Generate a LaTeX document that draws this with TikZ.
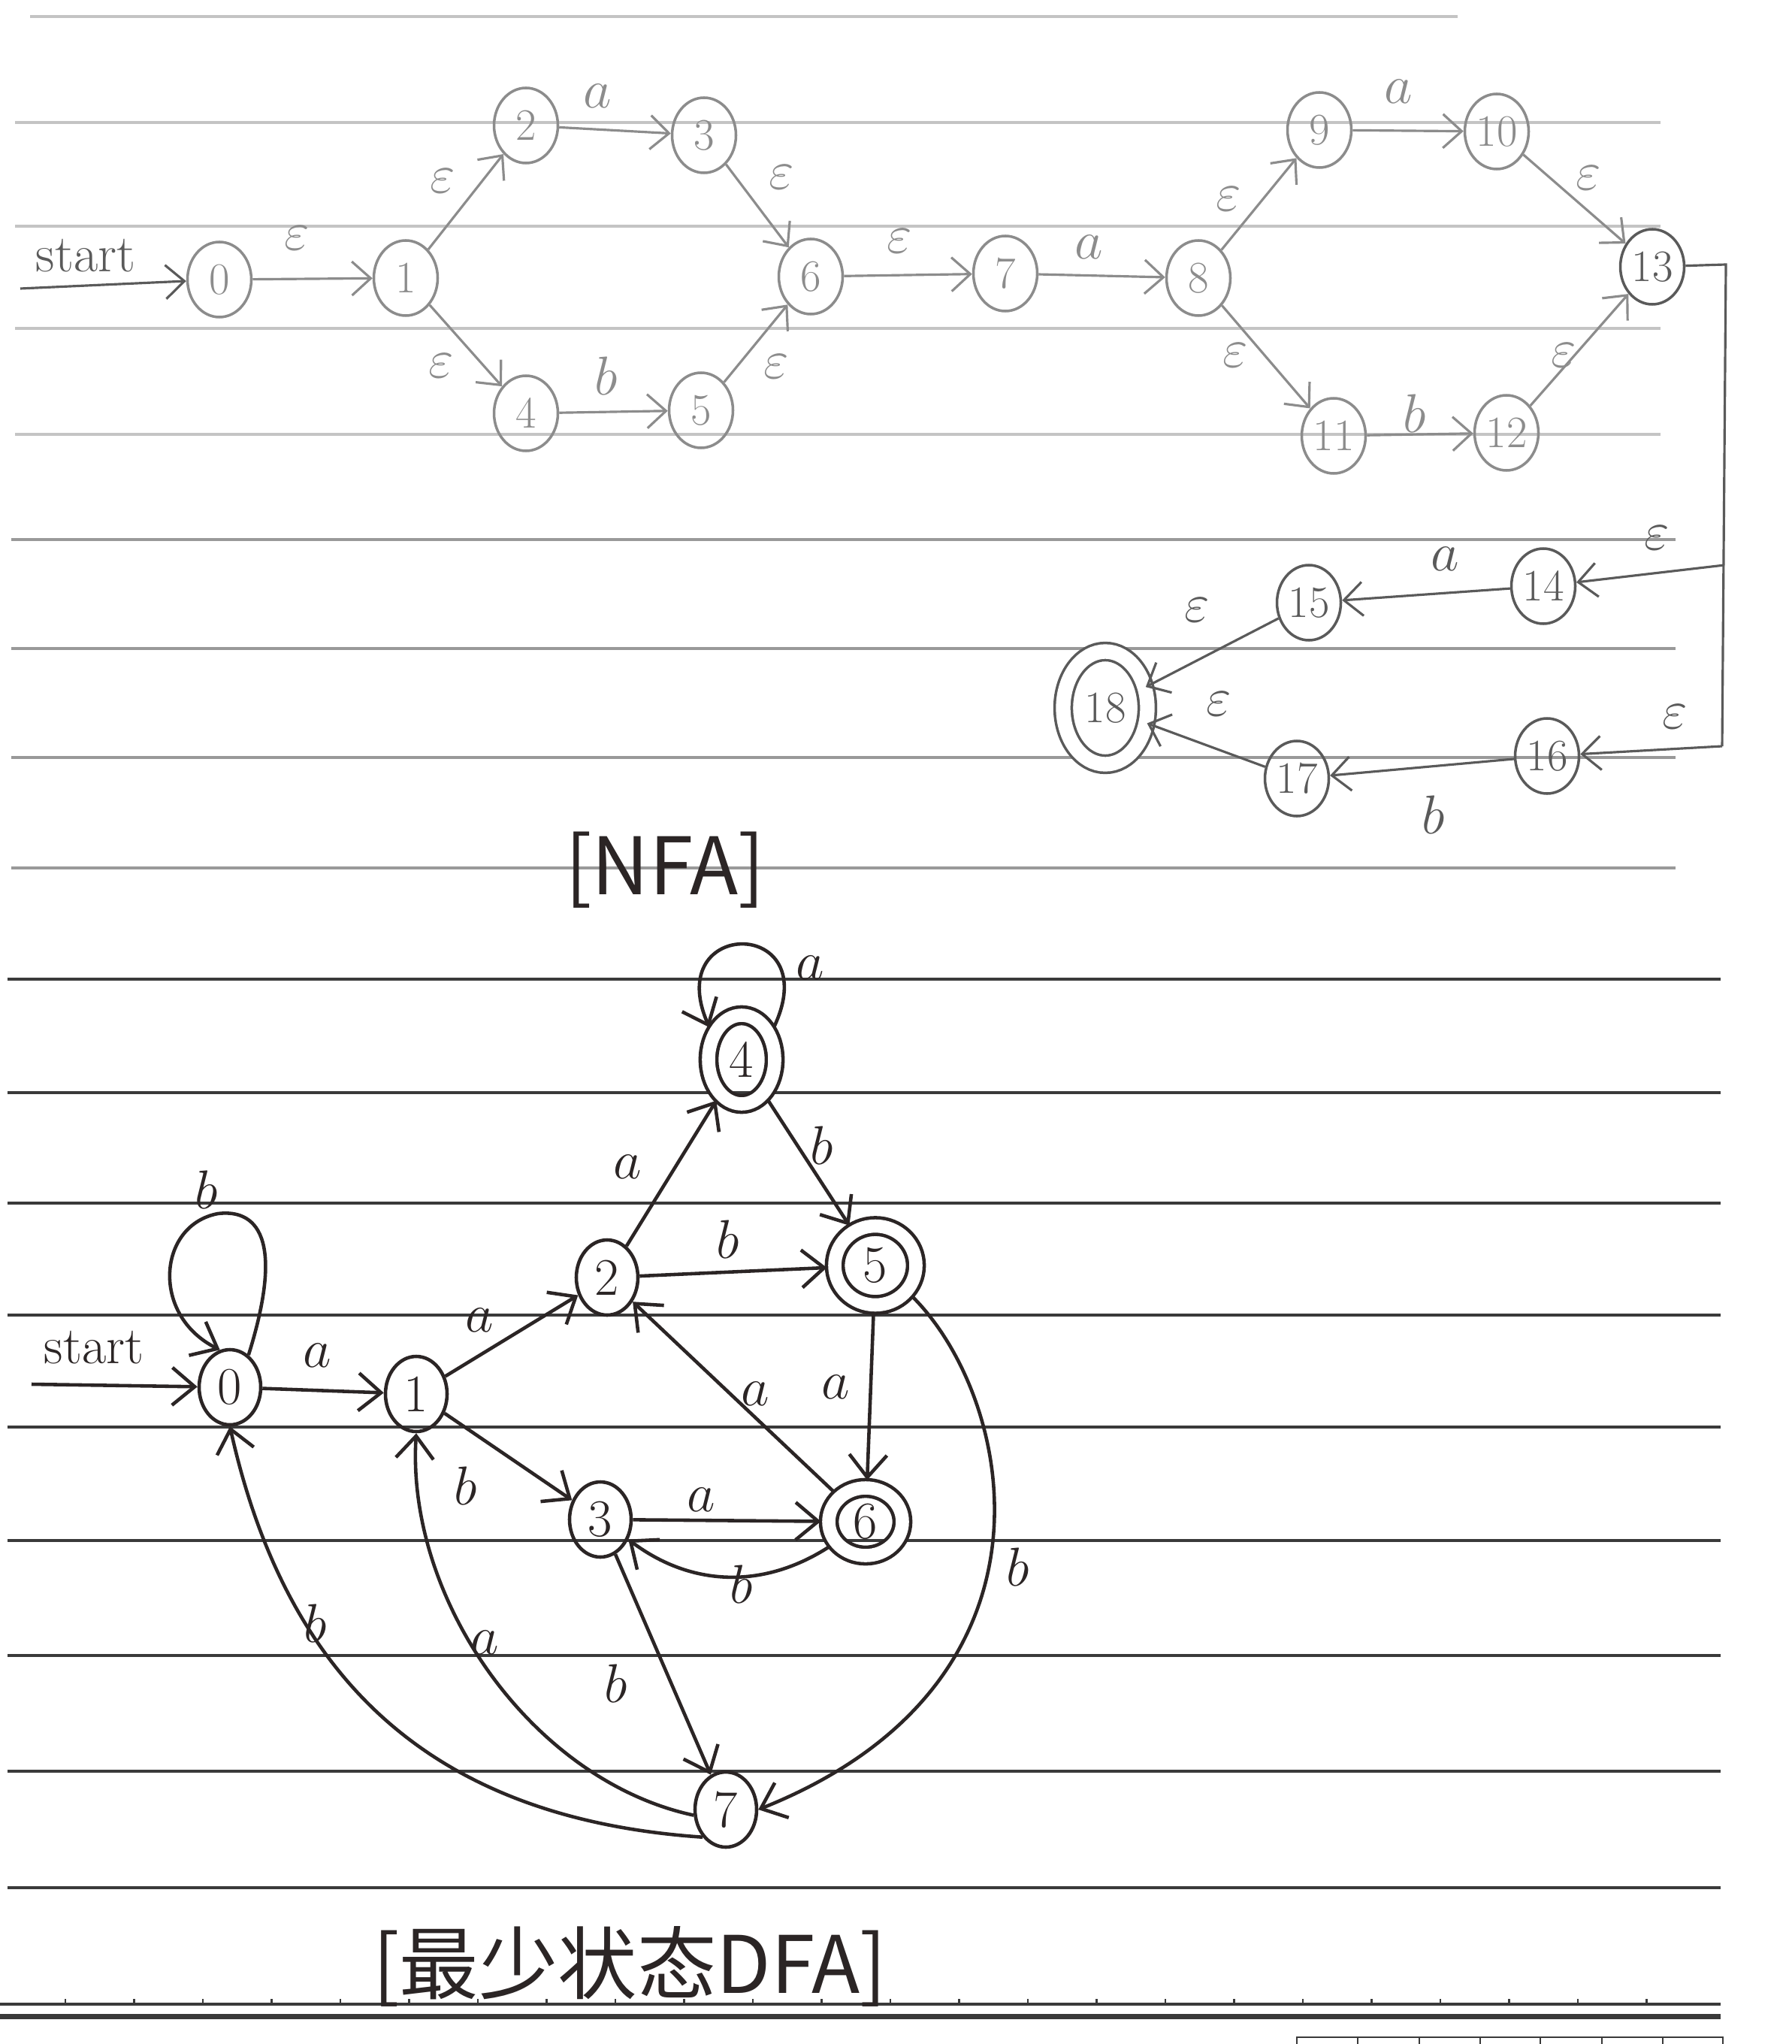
\documentclass[tikz,border=0pt]{standalone}
\usepackage{fontspec}
\newfontfamily\cjk{Noto Sans CJK SC}
\usepackage{tikz}
\usetikzlibrary{positioning, arrows.meta, shapes.geometric}
\definecolor{pencilGray}{HTML}{8C8C8C}
\definecolor{pencilDark}{HTML}{5A5A5A}
\definecolor{inkDark}{HTML}{2B2525}
\definecolor{ruleLight}{HTML}{C4C4C4}
\definecolor{ruleMid}{HTML}{999999}
\definecolor{ruleDark}{HTML}{3A3A3A}

\begin{document}
\begin{tikzpicture}[
  rule/.style={draw=#1, line width=0.9pt},
  nstate/.style={
    ellipse, draw=#1, line width=1pt,
    minimum width=0.85cm, minimum height=1.0cm, inner sep=0pt,
    font=\fontsize{17}{20}\selectfont, text=#1
  },
  nstate/.default=pencilGray,
  nacc/.style={
    nstate=pencilDark, double, double distance=5.5pt,
    minimum width=1.12cm, minimum height=1.5cm
  },
  dstate/.style={
    ellipse, draw=inkDark, line width=1.3pt,
    minimum width=0.82cm, minimum height=1.0cm, inner sep=0pt,
    font=\fontsize{20}{24}\selectfont, text=inkDark
  },
  dacc/.style={dstate, double, double distance=5pt, outer sep=3pt},
  nedge/.style={draw=#1, line width=0.9pt, -{Straight Barb[length=2.5mm,width=4.5mm]}},
  nedge/.default=pencilGray,
  dedge/.style={draw=inkDark, line width=1.3pt, -{Straight Barb[length=3mm,width=5mm]}},
  lbl/.style={font=\fontsize{22}{26}\selectfont, text=#1, inner sep=1pt},
  lbl/.default=inkDark,
  starttxt/.style={font=\fontsize{20}{24}\selectfont, text=#1, inner sep=1pt},
  title/.style={font=\cjk\fontsize{30}{34}\selectfont, text=inkDark, inner sep=1pt}
]
\useasboundingbox (0,0) rectangle (23.84,-27.20);

% === PAPER ===
\fill[white] (0,0) rectangle (23.84,-27.20);
\draw[rule=ruleLight] (0.40,-0.22) -- (19.40,-0.22);
\foreach \y in {1.63,3.01,4.37,5.78} {
  \draw[rule=ruleLight] (0.20,-\y) -- (22.10,-\y);
}
\foreach \y in {7.18,8.63,10.08,11.55} {
  \draw[rule=ruleMid] (0.15,-\y) -- (22.30,-\y);
}
\foreach \y in {13.03,14.54,16.01,17.50,18.99,20.50,22.03,23.57,25.12} {
  \draw[rule=ruleDark] (0.10,-\y) -- (22.90,-\y);
}
\draw[rule=ruleDark] (0,-26.67) -- (22.90,-26.67);
\foreach \x in {0.87,1.785,...,22.5} {
  \draw[ruleDark, line width=0.8pt] (\x,-26.67) -- (\x,-26.60);
}
\draw[ruleDark, line width=2pt] (0,-26.83) -- (22.90,-26.83);
\draw[ruleDark, line width=0.8pt] (17.26,-27.30) |- (22.93,-27.11) -- (22.93,-27.30);
\foreach \x in {18.07,18.89,19.70,20.50,21.32,22.13} {
  \draw[ruleDark, line width=0.8pt] (\x,-27.11) -- (\x,-27.30);
}

% === NFA ===
\node[nstate] (n0) at (2.92,-3.72) {0};
\node[nstate] (n1) at (5.40,-3.70) {1};
\node[nstate] (n2) at (7.00,-1.67) {2};
\node[nstate] (n3) at (9.37,-1.80) {3};
\node[nstate] (n4) at (7.00,-5.50) {4};
\node[nstate] (n5) at (9.33,-5.46) {5};
\node[nstate] (n6) at (10.79,-3.68) {6};
\node[nstate] (n7) at (13.38,-3.64) {7};
\node[nstate] (n8) at (15.95,-3.70) {8};
\node[nstate] (n9) at (17.56,-1.73) {9};
\node[nstate] (n10) at (19.92,-1.75) {10};
\node[nstate] (n11) at (17.75,-5.80) {11};
\node[nstate] (n12) at (20.05,-5.76) {12};
\node[nstate=pencilDark] (n13) at (21.99,-3.55) {13};
\node[nstate=pencilDark] (n14) at (20.54,-7.80) {14};
\node[nstate=pencilDark] (n15) at (17.42,-8.02) {15};
\node[nstate=pencilDark] (n16) at (20.59,-10.06) {16};
\node[nstate=pencilDark] (n17) at (17.26,-10.36) {17};
\node[nacc] (n18) at (14.71,-9.42) {18};

\node[starttxt=pencilDark] (nfa-start) at (1.14,-3.40) {start};
\coordinate (ns) at (0.27,-3.84);
\draw[nedge=pencilDark] (ns) -- (n0);

\foreach \a/\b in {0/1,1/2,1/4,2/3,4/5,3/6,5/6,6/7,7/8,8/9,8/11,9/10,11/12,10/13,12/13} {
  \draw[nedge] (n\a) -- (n\b);
}

% branch out of 13
\coordinate (c13) at (22.97,-3.52);
\coordinate (c14) at (22.95,-7.52);
\coordinate (c16) at (22.92,-9.93);
\draw[nedge=pencilDark, -] (n13) -- (c13) -- (c16);
\draw[nedge=pencilDark] (c14) -- (n14);
\draw[nedge=pencilDark] (c16) -- (n16);
\foreach \a/\b in {14/15,16/17,15/18,17/18} {
  \draw[nedge=pencilDark] (n\a) -- (n\b);
}

% labels
\node[lbl=pencilGray] (e01) at (3.95,-3.17) {$\varepsilon$};
\node[lbl=pencilGray] (e12) at (5.89,-2.41) {$\varepsilon$};
\node[lbl=pencilGray] (e14) at (5.87,-4.87) {$\varepsilon$};
\node[lbl=pencilGray] (e23) at (7.95,-1.28) {$a$};
\node[lbl=pencilGray] (e36) at (10.40,-2.36) {$\varepsilon$};
\node[lbl=pencilGray] (e45) at (8.07,-5.00) {$b$};
\node[lbl=pencilGray] (e56) at (10.33,-4.88) {$\varepsilon$};
\node[lbl=pencilGray] (e67) at (11.97,-3.21) {$\varepsilon$};
\node[lbl=pencilGray] (e78) at (14.49,-3.29) {$a$};
\node[lbl=pencilGray] (e89) at (16.35,-2.65) {$\varepsilon$};
\node[lbl=pencilGray] (e811) at (16.44,-4.73) {$\varepsilon$};
\node[lbl=pencilGray] (e910) at (18.61,-1.22) {$a$};
\node[lbl=pencilGray] (e1013) at (21.14,-2.37) {$\varepsilon$};
\node[lbl=pencilGray] (e1112) at (18.83,-5.50) {$b$};
\node[lbl=pencilGray] (e1213) at (20.81,-4.73) {$\varepsilon$};
\node[lbl=pencilDark] (e1314) at (22.05,-7.16) {$\varepsilon$};
\node[lbl=pencilDark] (e1415) at (19.23,-7.44) {$a$};
\node[lbl=pencilDark] (e1518) at (15.93,-8.12) {$\varepsilon$};
\node[lbl=pencilDark] (e1316) at (22.29,-9.54) {$\varepsilon$};
\node[lbl=pencilDark] (e1617) at (19.08,-10.84) {$b$};
\node[lbl=pencilDark] (e1718) at (16.22,-9.37) {$\varepsilon$};

\node[title] (nfa-title) at (8.85,-11.58) {[NFA]};

% === DFA ===
\node[dstate] (d0) at (3.06,-18.46) {0};
\node[dstate] (d1) at (5.54,-18.55) {1};
\node[dstate] (d2) at (8.08,-17.00) {2};
\node[dstate] (d3) at (7.99,-20.22) {3};
\node[dacc, minimum width=0.88cm, minimum height=1.18cm] (d4) at (9.87,-14.10) {4};
\node[dacc, minimum width=1.08cm, minimum height=1.05cm] (d5) at (11.65,-16.84) {5};
\node[dacc, minimum width=0.98cm, minimum height=0.90cm] (d6) at (11.52,-20.25) {6};
\node[dstate] (d7) at (9.66,-24.08) {7};

\node[starttxt=inkDark] (dfa-start) at (1.25,-17.93) {start};
\coordinate (ds) at (0.42,-18.42);
\draw[dedge] (ds) -- (d0);

\foreach \a/\b in {0/1,1/2,1/3,2/4,2/5,4/5,5/6,3/6,6/2,3/7} {
  \draw[dedge] (d\a) -- (d\b);
}

% loops
\draw[dedge] (d0.60) .. controls (3.85,-16.3) and (3.3,-16.1) .. (2.9,-16.15)
  .. controls (2.1,-16.3) and (2.0,-17.5) .. (d0.105);
\draw[dedge] (d4.45) .. controls (11.0,-12.2) and (8.8,-12.2) .. (d4.135);

% curved edges
\draw[dedge] (d6) to[bend left=35] (d3);
\draw[dedge] (d5.-40) .. controls (13.5,-18.6) and (14.3,-22.4) .. (d7.east);
\draw[dedge] (d7.190) .. controls (7.1,-23.7) and (5.4,-21.3) .. (d1.south);
\draw[dedge] (d7.230) .. controls (5.7,-24.2) and (3.8,-22.3) .. (d0.south);

% labels
\node[lbl] (f00) at (2.75,-15.83) {$b$};
\node[lbl] (f01) at (4.22,-18.04) {$a$};
\node[lbl] (f12) at (6.38,-17.57) {$a$};
\node[lbl] (f13) at (6.20,-19.77) {$b$};
\node[lbl] (f24) at (8.35,-15.53) {$a$};
\node[lbl] (f25) at (9.69,-16.49) {$b$};
\node[lbl] (f44) at (10.78,-12.88) {$a$};
\node[lbl] (f45) at (10.94,-15.24) {$b$};
\node[lbl] (f56) at (11.12,-18.46) {$a$};
\node[lbl] (f62) at (10.05,-18.55) {$a$};
\node[lbl] (f36) at (9.33,-19.96) {$a$};
\node[lbl] (f63) at (9.87,-21.08) {$b$};
\node[lbl] (f37) at (8.20,-22.40) {$b$};
\node[lbl] (f57) at (13.55,-20.85) {$b$};
\node[lbl] (f71) at (6.45,-21.86) {$a$};
\node[lbl] (f70) at (4.20,-21.60) {$b$};

\node[title] (dfa-title) at (8.38,-26.17) {[最少状态DFA]};

\end{tikzpicture}
\end{document}
